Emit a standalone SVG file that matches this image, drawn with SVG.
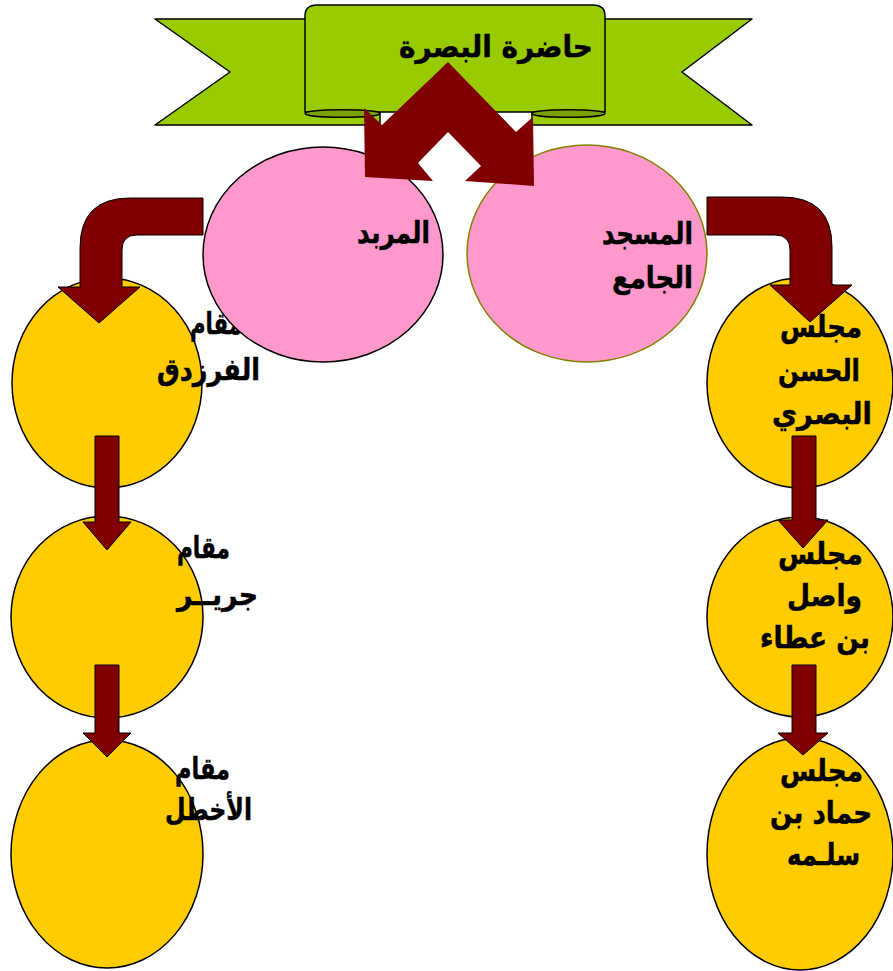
<svg xmlns="http://www.w3.org/2000/svg" width="893" height="971" viewBox="0 0 893 971">
<style>
.yc{fill:#FFCC00;stroke:#000;stroke-width:1.5}
.pk{fill:#FF99CC;stroke:#000;stroke-width:1.5}
.pk2{fill:#FF99CC;stroke:#808000;stroke-width:1.5}
.t{font-family:"DejaVu Sans",sans-serif;font-weight:bold;font-size:30px;fill:#000;stroke:#000;stroke-width:0.5;text-anchor:end}
.arr{fill:#800000;stroke:#000;stroke-width:1}
.grn{fill:#99CC00;stroke:#000;stroke-width:1.5;stroke-linejoin:round}
.dgrn{fill:#7AA300;stroke:#000;stroke-width:1.5}
</style>
<rect width="893" height="971" fill="#fff"/>
<!-- left column yellow nodes -->
<g id="farazdaq">
<ellipse class="yc" cx="107" cy="383" rx="95" ry="105"/>
<text class="t" x="242" y="334" textLength="52" lengthAdjust="spacingAndGlyphs">مقام</text>
<text class="t" x="260" y="380" textLength="103" lengthAdjust="spacingAndGlyphs">الفرزدق</text>
</g>
<g id="jarir">
<ellipse class="yc" cx="107" cy="617" rx="96" ry="101"/>
<text class="t" x="230" y="558" textLength="53" lengthAdjust="spacingAndGlyphs">مقام</text>
<text class="t" x="258" y="605" textLength="81" lengthAdjust="spacingAndGlyphs">جريــر</text>
</g>
<g id="akhtal">
<ellipse class="yc" cx="107" cy="854" rx="96" ry="114"/>
<text class="t" x="230" y="779" textLength="55" lengthAdjust="spacingAndGlyphs">مقام</text>
<text class="t" x="252" y="820" textLength="87" lengthAdjust="spacingAndGlyphs">الأخطل</text>
</g>
<!-- right column yellow nodes -->
<g id="hasan">
<ellipse class="yc" cx="800" cy="383" rx="93" ry="105"/>
<text class="t" x="862" y="337" textLength="82" lengthAdjust="spacingAndGlyphs">مجلس</text>
<text class="t" x="860" y="381" textLength="82" lengthAdjust="spacingAndGlyphs">الحسن</text>
<text class="t" x="872" y="424" textLength="100" lengthAdjust="spacingAndGlyphs">البصري</text>
</g>
<g id="wasil">
<ellipse class="yc" cx="800" cy="617" rx="93" ry="100"/>
<text class="t" x="863" y="564" textLength="85" lengthAdjust="spacingAndGlyphs">مجلس</text>
<text class="t" x="862" y="606" textLength="75" lengthAdjust="spacingAndGlyphs">واصل</text>
<text class="t" x="870" y="648" textLength="110" lengthAdjust="spacingAndGlyphs">بن عطاء</text>
</g>
<g id="hammad">
<ellipse class="yc" cx="800" cy="854" rx="93" ry="116"/>
<text class="t" x="863" y="781" textLength="83" lengthAdjust="spacingAndGlyphs">مجلس</text>
<text class="t" x="872" y="823" textLength="102" lengthAdjust="spacingAndGlyphs">حماد بن</text>
<text class="t" x="860" y="865" textLength="73" lengthAdjust="spacingAndGlyphs">سلـمه</text>
</g>
<!-- pink nodes -->
<g id="mirbad">
<ellipse class="pk" cx="323" cy="254.5" rx="120" ry="107.5"/>
<text class="t" x="430" y="243" textLength="73" lengthAdjust="spacingAndGlyphs">المربد</text>
</g>
<g id="masjid">
<ellipse class="pk2" cx="587" cy="253.5" rx="120" ry="108.5"/>
<text class="t" x="693" y="244" textLength="91" lengthAdjust="spacingAndGlyphs">المسجد</text>
<text class="t" x="693" y="288" textLength="81" lengthAdjust="spacingAndGlyphs">الجامع</text>
</g>
<!-- banner -->
<g id="basra">
<path class="grn" d="M155,19 H340 V110 H380 V125 H155 L230,72 Z"/>
<path class="grn" d="M752,19 H570 V110 H532 V125 H752 L682,72 Z"/>
<path class="grn" d="M305,112 V16 Q305,5 317,5 H593 Q605,5 605,16 V112 H305 Z"/>
<ellipse class="dgrn" cx="342.5" cy="113.5" rx="37.5" ry="3.8"/>
<ellipse class="dgrn" cx="568.5" cy="113.5" rx="36.5" ry="3.8"/>
<text class="t" x="593" y="57" textLength="194" lengthAdjust="spacingAndGlyphs">حاضرة البصرة</text>
</g>
<!-- connectors -->
<g id="connectors">
<path class="arr" style="stroke:none" d="M448,62 L516,132 L533,117 L534,186 L465,181 L481,166 L448,132 L418,163 L433,181 L365,177 L364,108 L382,125 Z"/>
<path class="arr" d="M203,198 H130 Q80,198 80,248 V287 H58 L99,323 L140,287 H122 V250 Q122,235 137,235 H203 Z"/>
<path class="arr" d="M707,197 H782 Q832,197 832,247 V285 H852 L810,322 L770,285 H790 V250 Q790,235 775,235 H707 Z"/>
<path class="arr" d="M95,436 H119 V522 H131 L107,550 L83,522 H95 Z"/>
<path class="arr" d="M95,665 H119 V733 H131 L107,757 L83,733 H95 Z"/>
<path class="arr" d="M792,436 H816 V520 H828 L803,548 L778,520 H792 Z"/>
<path class="arr" d="M792,665 H816 V733 H828 L803,755 L778,733 H792 Z"/>
</g>
</svg>
